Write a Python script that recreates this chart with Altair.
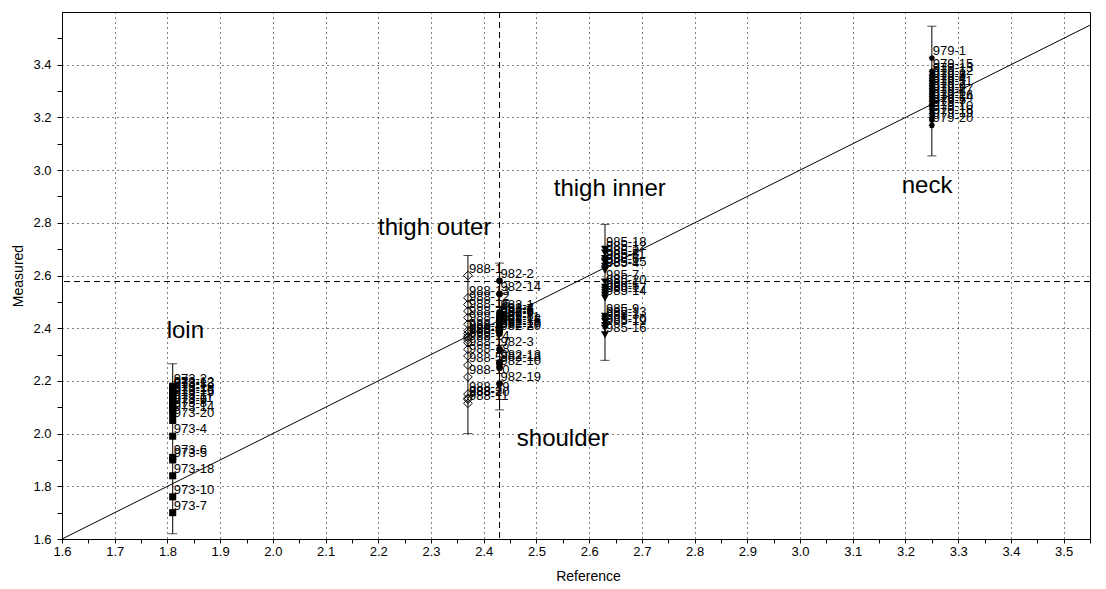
import altair as alt
import pandas as pd

# ---------------- data ----------------
# loin (973-x)
loin_ref = 1.81
loin_ids = [2, 12, 13, 3, 19, 1, 16, 15, 17, 11, 9, 8, 14, 20, 4, 6, 5, 18, 10, 7]
loin_meas = [2.18, 2.17, 2.165, 2.16, 2.15, 2.145, 2.14, 2.13, 2.12, 2.11, 2.10, 2.09,
             2.075, 2.05, 1.99, 1.91, 1.90, 1.84, 1.76, 1.70]

# thigh outer (988-x)
outer_ref = 2.37
outer_ids = [1, 13, 12, 15, 7, 16, 2, 4, 6, 8, 9, 14, 17, 18, 5, 10, 19, 3, 20, 11]
outer_meas = [2.60, 2.515, 2.49, 2.465, 2.44, 2.415, 2.39, 2.38, 2.37, 2.365, 2.355, 2.345,
              2.32, 2.295, 2.26, 2.215, 2.15, 2.135, 2.13, 2.115]

# shoulder (982-x)
shoulder_ref = 2.43
shoulder_ids = [2, 14, 1, 4, 7, 5, 6, 9, 8, 11, 12, 15, 16, 17, 20, 3, 13, 18, 10, 19]
shoulder_meas = [2.58, 2.53, 2.46, 2.45, 2.445, 2.44, 2.435, 2.43, 2.42, 2.415, 2.41, 2.40,
                 2.395, 2.39, 2.38, 2.32, 2.27, 2.265, 2.25, 2.19]

# thigh inner (985-x)
inner_ref = 2.63
inner_ids = [18, 12, 2, 8, 11, 6, 15, 4, 7, 20, 1, 5, 17, 14, 9, 13, 3, 10, 19, 16]
inner_meas = [2.70, 2.685, 2.665, 2.655, 2.65, 2.635, 2.625, 2.62, 2.575, 2.555, 2.545, 2.535,
              2.525, 2.515, 2.445, 2.435, 2.425, 2.41, 2.40, 2.375]

# neck (979-x)
neck_ref = 3.25
neck_ids = [1, 15, 13, 12, 3, 8, 4, 11, 2, 9, 17, 6, 16, 14, 5, 7, 10, 18, 19, 20]
neck_meas = [3.425, 3.375, 3.36, 3.35, 3.34, 3.33, 3.32, 3.31, 3.30, 3.29, 3.28, 3.27,
             3.26, 3.25, 3.24, 3.23, 3.215, 3.20, 3.19, 3.17]

# error bars per group
eb_group = ["loin", "thigh outer", "shoulder", "thigh inner", "neck"]
eb_ref = [1.81, 2.37, 2.43, 2.63, 3.25]
eb_low = [1.62, 2.00, 2.09, 2.278, 3.054]
eb_high = [2.265, 2.676, 2.647, 2.794, 3.546]

# group name labels
name_text = ["loin", "thigh outer", "shoulder", "thigh inner", "neck"]
name_x = [1.834, 2.307, 2.55, 2.639, 3.241]
name_y = [2.39, 2.78, 1.98, 2.93, 2.94]

# crosshair and identity line
ref_center = [2.43]
meas_center = [2.577]
diag = [1.6, 3.55]

x_ticks = [1.6, 1.65, 1.7, 1.75, 1.8, 1.85, 1.9, 1.95, 2.0, 2.05, 2.1, 2.15, 2.2, 2.25,
           2.3, 2.35, 2.4, 2.45, 2.5, 2.55, 2.6, 2.65, 2.7, 2.75, 2.8, 2.85, 2.9, 2.95,
           3.0, 3.05, 3.1, 3.15, 3.2, 3.25, 3.3, 3.35, 3.4, 3.45, 3.5, 3.55]
y_ticks = [1.6, 1.7, 1.8, 1.9, 2.0, 2.1, 2.2, 2.3, 2.4, 2.5, 2.6, 2.7, 2.8, 2.9, 3.0,
           3.1, 3.2, 3.3, 3.4, 3.5]

# ---------------- tables ----------------
def grp(name, prefix, ref, ids, meas):
    return pd.DataFrame({"group": name, "ref": ref,
                         "meas": meas, "label": [f"{prefix}-{i}" for i in ids]})

pts = pd.concat([
    grp("loin", "973", loin_ref, loin_ids, loin_meas),
    grp("thigh outer", "988", outer_ref, outer_ids, outer_meas),
    grp("shoulder", "982", shoulder_ref, shoulder_ids, shoulder_meas),
    grp("thigh inner", "985", inner_ref, inner_ids, inner_meas),
    grp("neck", "979", neck_ref, neck_ids, neck_meas),
], ignore_index=True)

eb = pd.DataFrame({"group": eb_group, "ref": eb_ref, "meas": eb_low, "high": eb_high})
names = pd.DataFrame({"name": name_text, "ref": name_x, "meas": name_y})
diag_df = pd.DataFrame({"ref": diag, "meas": diag})

FONT = "Liberation Sans"

xs = alt.Scale(domain=[1.6, 3.55], nice=False, zero=False)
ys = alt.Scale(domain=[1.6, 3.6], nice=False, zero=False)

x_axis = alt.Axis(
    values=x_ticks,
    labelExpr="round(datum.value*100) % 10 === 0 ? format(datum.value, '.1f') : ''",
    title="Reference", grid=True, gridDash=[1, 4], gridColor="black",
    gridOpacity={"condition": {"test": "round(datum.value*100) % 10 !== 0", "value": 0}, "value": 1},
    tickSize=4, labelPadding=2, titlePadding=11, labelFlush=False,
    titleX=526, titleAlign="center",
)
y_axis = alt.Axis(
    values=y_ticks,
    labelExpr="round(datum.value*10) % 2 === 0 ? format(datum.value, '.1f') : ''",
    title="Measured", grid=True, gridDash=[1, 4], gridColor="black",
    gridOpacity={"condition": {"test": "round(datum.value*10) % 2 !== 0", "value": 0}, "value": 1},
    tickSize=5, labelPadding=6, titlePadding=7, labelFlush=False,
)

def X(field="ref"):
    return alt.X(f"{field}:Q", scale=xs, axis=x_axis)

def Y(field="meas"):
    return alt.Y(f"{field}:Q", scale=ys, axis=y_axis)

diag_line = alt.Chart(diag_df).mark_line(color="black", strokeWidth=1, clip=True).encode(x=X(), y=Y())

vline = alt.Chart(pd.DataFrame({"ref": ref_center})).mark_rule(
    color="black", strokeDash=[6, 4], strokeWidth=1).encode(x=X())
hline = alt.Chart(pd.DataFrame({"meas": meas_center})).mark_rule(
    color="black", strokeDash=[6, 4], strokeWidth=1).encode(y=Y())

eb_rule = alt.Chart(eb).mark_rule(color="black", strokeWidth=1).encode(
    x=X(), y=Y(), y2="high:Q")
eb_cap_lo = alt.Chart(eb).mark_tick(color="black", orient="horizontal", size=9, thickness=1).encode(
    x=X(), y=Y())
eb_cap_hi = alt.Chart(eb).mark_tick(color="black", orient="horizontal", size=9, thickness=1).encode(
    x=X(), y=Y("high"))

asterisk = "M-1,0L1,0M0,-1L0,1M-0.7,-0.7L0.7,0.7M-0.7,0.7L0.7,-0.7"
marker_styles = {
    "loin": dict(shape="square", filled=True, size=50),
    "thigh outer": dict(shape="diamond", filled=False, size=75, strokeWidth=1),
    "shoulder": dict(shape="circle", filled=True, size=45),
    "thigh inner": dict(shape="triangle-down", filled=True, size=65),
    "neck": dict(shape=asterisk, filled=False, size=35, strokeWidth=1.5),
}

marker_layers = []
for g, st in marker_styles.items():
    marker_layers.append(
        alt.Chart(pts).transform_filter(alt.datum.group == g)
        .mark_point(color="black", opacity=1, **st)
        .encode(x=X(), y=Y())
    )

pt_labels = alt.Chart(pts).mark_text(
    align="left", baseline="middle", dx=1, dy=-7, fontSize=13, font=FONT, color="black"
).encode(x=X(), y=Y(), text="label:N")

name_labels = alt.Chart(names).mark_text(
    align="center", baseline="middle", fontSize=24, font=FONT, color="black"
).encode(x=X(), y=Y(), text="name:N")

chart = alt.layer(
    diag_line, vline, hline, eb_rule, eb_cap_lo, eb_cap_hi,
    *marker_layers, pt_labels, name_labels
).properties(
    width=1028, height=527,
    autosize="none",
    padding={"left": 62, "top": 12, "right": 16, "bottom": 50},
    background="white",
).configure_view(
    stroke="black", strokeWidth=1
).configure_axis(
    domainColor="black", tickColor="black", labelColor="black", titleColor="black",
    labelFont=FONT, titleFont=FONT, labelFontSize=13, titleFontSize=14,
    titleFontWeight="normal",
)

chart.save("out.html", embed_options={"renderer": "svg", "actions": False})
